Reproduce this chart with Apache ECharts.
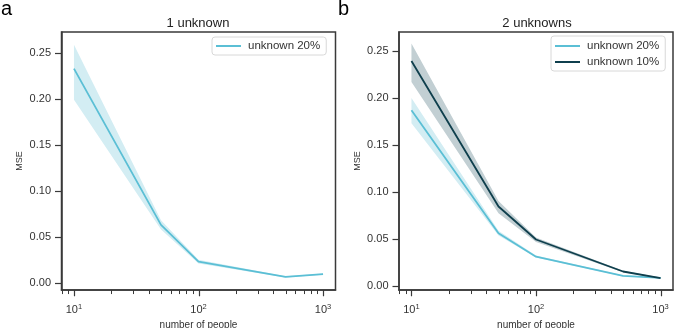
<!DOCTYPE html>
<html>
<head>
<meta charset="utf-8">
<script src="https://cdn.jsdelivr.net/npm/echarts@6/dist/echarts.min.js"></script>
<style>
  html, body { margin: 0; padding: 0; background: #fff; }
  #chart { width: 675px; height: 328px; }
</style>
</head>
<body>
<div id="chart"></div>
<script>
// Number of people simulated (x values, shared by both panels)
const people = [10, 50, 100, 500, 1000];

// Panel a: one unknown, 20% unknown
const a20Mean = [0.233, 0.063, 0.023, 0.0065, 0.0095];
const a20Low  = [0.199, 0.058, 0.021, 0.0058, 0.0088];
const a20High = [0.259, 0.068, 0.025, 0.0072, 0.0102];

// Panel b: two unknowns, 20% and 10% unknown
const b20Mean = [0.187, 0.056, 0.031, 0.0106, 0.0085];
const b20Low  = [0.173, 0.0535, 0.030, 0.0100, 0.0080];
const b20High = [0.200, 0.0585, 0.0322, 0.0112, 0.0090];
const b10Mean = [0.2394, 0.0844, 0.0493, 0.0152, 0.0082];
const b10Low  = [0.217, 0.0773, 0.0465, 0.0143, 0.0077];
const b10High = [0.258, 0.0904, 0.0514, 0.0161, 0.0087];

// Axis ticks
const yTicks = [0, 0.05, 0.10, 0.15, 0.20, 0.25];
const xDecades = [10, 100, 1000];
const xMinor = [8, 9, 20, 30, 40, 50, 60, 70, 80, 90, 200, 300, 400, 500, 600, 700, 800, 900];

const LIGHT = '#5bbfd5';
const DARK = '#0f3f4d';
const LIGHT_BAND = '#d3edf3';
const DARK_BAND = '#c2cfd3';
const FONT = 'Liberation Sans, Arial, sans-serif';
const AX = '#3a3a3a';

const grids = [
  { left: 61.5, top: 32, width: 274, height: 258 },
  { left: 399, top: 32, width: 274, height: 258 }
];
const yRanges = [[-0.0078, 0.2728], [-0.0045, 0.2703]];

function pairs(xs, ys) { return xs.map((x, i) => [x, ys[i]]); }

function isDecade(v) {
  return xDecades.some(d => Math.abs(v - d) / d < 1e-6);
}

// shaded confidence band drawn as one polygon through the axis scales
function bandSeries(gi, lo, hi, color) {
  return {
    type: 'custom',
    xAxisIndex: gi, yAxisIndex: gi,
    silent: true, z: 1,
    data: people.map((x, i) => [x, lo[i], hi[i]]),
    encode: { x: 0, y: [1, 2] },
    renderItem: function (params, api) {
      if (params.dataIndex !== 0) return null;
      const pts = [];
      for (let i = 0; i < people.length; i++) pts.push(api.coord([people[i], hi[i]]));
      for (let i = people.length - 1; i >= 0; i--) pts.push(api.coord([people[i], lo[i]]));
      return { type: 'polygon', shape: { points: pts }, style: { fill: color, stroke: null } };
    }
  };
}

// log-axis tick marks (decades long, 2..9 multiples short) hanging below the frame
function tickSeries(gi, values, len, width) {
  const yMin = yRanges[gi][0];
  return {
    type: 'custom',
    xAxisIndex: gi, yAxisIndex: gi,
    silent: true, clip: false, z: 5,
    data: values.map(v => [v, yMin]),
    encode: { x: 0, y: 1 },
    renderItem: function (params, api) {
      const p = api.coord([api.value(0), yMin]);
      const x = Math.round(p[0]) + 0.5;
      return {
        type: 'line',
        shape: { x1: x, y1: p[1], x2: x, y2: p[1] + 0.75 + len },
        style: { stroke: AX, lineWidth: width }
      };
    }
  };
}

function lineSeries(gi, name, ys, color) {
  return {
    type: 'line', name: name,
    xAxisIndex: gi, yAxisIndex: gi,
    data: pairs(people, ys),
    symbol: 'none', z: 3,
    lineStyle: { color: color, width: 1.8 },
    itemStyle: { color: color },
    animation: false
  };
}

const xAxes = grids.map((g, gi) => ({
  type: 'log', logBase: 10, gridIndex: gi, position: 'bottom',
  min: Math.pow(10, 0.9), max: Math.pow(10, 3.1),
  name: 'number of people', nameLocation: 'middle', nameGap: 23.5,
  nameTextStyle: { fontFamily: FONT, fontSize: 10, color: '#333' },
  axisLine: { show: true, onZero: false, lineStyle: { color: AX, width: 1.5 } },
  axisTick: { show: false },
  minorTick: { show: false },
  axisLabel: {
    margin: 13, showMinLabel: false, showMaxLabel: false, hideOverlap: false,
    formatter: v => isDecade(v) ? '{b|10}{s|' + Math.round(Math.log10(v)) + '}' : '',
    rich: {
      b: { fontFamily: FONT, fontSize: 11, color: '#333', lineHeight: 13 },
      s: { fontFamily: FONT, fontSize: 7.5, color: '#333', verticalAlign: 'top', lineHeight: 8 }
    }
  },
  splitLine: { show: false }
}));

const yAxes = grids.map((g, gi) => ({
  type: 'value', gridIndex: gi,
  min: yRanges[gi][0], max: yRanges[gi][1],
  name: 'MSE', nameLocation: 'middle', nameGap: 37,
  nameTextStyle: { fontFamily: FONT, fontSize: 9, color: '#333' },
  axisLine: { show: true, onZero: false, lineStyle: { color: AX, width: 1.5 } },
  axisTick: { show: true, inside: false, length: 6.5, customValues: yTicks, lineStyle: { color: AX, width: 1.2 } },
  axisLabel: {
    customValues: yTicks, margin: 10.5,
    formatter: v => v.toFixed(2),
    fontFamily: FONT, fontSize: 11, color: '#333'
  },
  splitLine: { show: false }
}));

const legendCommon = {
  orient: 'vertical',
  itemWidth: 25, itemHeight: 12, itemGap: 4,
  itemStyle: { opacity: 0 },
  backgroundColor: '#fff',
  borderColor: '#d8d8d8', borderWidth: 1, borderRadius: 3,
  textStyle: { fontFamily: FONT, fontSize: 11.5, color: '#333', padding: [0, 0, 0, 2] }
};

const option = {
  animation: false,
  grid: grids.map(g => Object.assign({
    show: true, borderColor: AX, borderWidth: 1.5, backgroundColor: 'transparent',
    containLabel: false, outerBoundsMode: 'none'
  }, g)),
  xAxis: xAxes,
  yAxis: yAxes,
  legend: [
    Object.assign({}, legendCommon, { left: 212, top: 37, padding: [3, 6, 3, 3], data: ['unknown 20%'] }),
    Object.assign({}, legendCommon, { left: 551, top: 36, padding: [4, 6, 3, 3], data: ['unknown 20% ', 'unknown 10%'], formatter: n => n.trim() })
  ],
  graphic: [
    { type: 'text', left: 1, top: -1, style: { text: 'a', font: '20px ' + FONT, fill: '#000' } },
    { type: 'text', left: 338, top: -1, style: { text: 'b', font: '20px ' + FONT, fill: '#000' } },
    { type: 'text', x: 198, y: 23, style: { text: '1 unknown', font: '13px ' + FONT, fill: '#222', align: 'center', verticalAlign: 'middle' } },
    { type: 'text', x: 537, y: 23, style: { text: '2 unknowns', font: '13px ' + FONT, fill: '#222', align: 'center', verticalAlign: 'middle' } }
  ],
  series: [
    bandSeries(0, a20Low, a20High, LIGHT_BAND),
    lineSeries(0, 'unknown 20%', a20Mean, LIGHT),
    tickSeries(0, xDecades, 5.5, 1.2),
    tickSeries(0, xMinor, 3.3, 1),
    bandSeries(1, b10Low, b10High, DARK_BAND),
    bandSeries(1, b20Low, b20High, LIGHT_BAND),
    lineSeries(1, 'unknown 20% ', b20Mean, LIGHT),
    lineSeries(1, 'unknown 10%', b10Mean, DARK),
    tickSeries(1, xDecades, 5.5, 1.2),
    tickSeries(1, xMinor, 3.3, 1)
  ]
};

const chart = echarts.init(document.getElementById('chart'), null, { renderer: 'canvas' });
chart.setOption(option);
</script>
</body>
</html>
